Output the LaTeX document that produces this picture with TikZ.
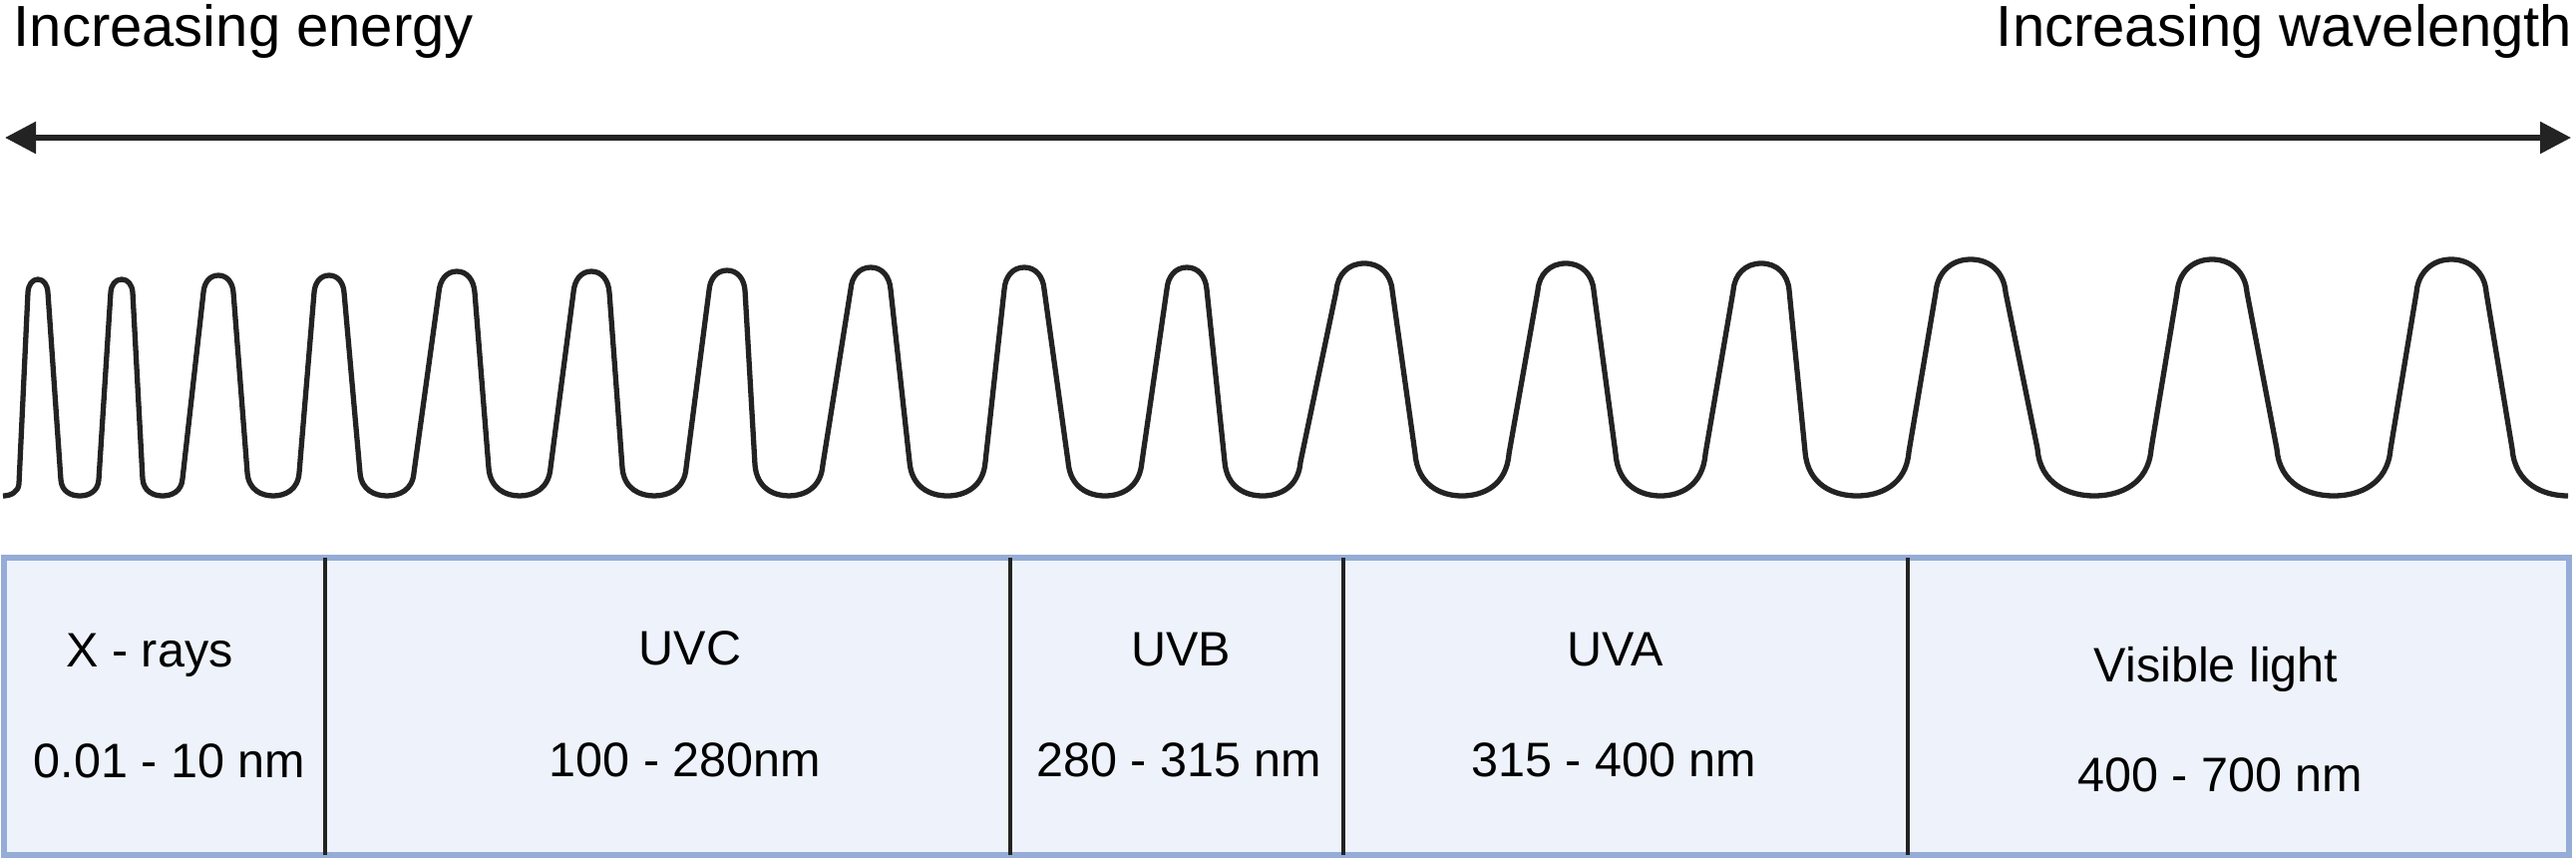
\documentclass[tikz,border=0pt]{standalone}
\usepackage{fontspec}
\setmainfont{Liberation Sans}
\usetikzlibrary{arrows.meta}
\definecolor{inkcol}{HTML}{232323}
\definecolor{bandfill}{HTML}{EEF3FB}
\definecolor{banddraw}{HTML}{94ACD6}
\def\wslope{0.08}
\def\wk{0.58}
\def\wkb{0.45}
\def\wkf{0.75}
\tikzset{
  wave/.style={draw=inkcol,line width=1.5pt,line join=round},
  toptext/.style={font=\fontsize{16.5}{19}\selectfont,inner sep=0pt},
  bandtext/.style={font=\fontsize{13.8}{16}\selectfont,inner sep=0pt,anchor=base}
}
\begin{document}
\begin{tikzpicture}[x=0.01cm,y=0.01cm]
\useasboundingbox (0,0) rectangle (2583,863);
\node[toptext,anchor=base west] (energy) at (13,816) {Increasing energy};
\node[toptext,anchor=base east] (wavelength) at (2580,816) {Increasing wavelength};
\coordinate (arrowl) at (5,725);
\coordinate (arrowr) at (2578,725);
\draw[draw=inkcol,line width=1.6pt,{Triangle[length=0.31cm,width=0.31cm]}-{Triangle[length=0.31cm,width=0.31cm]}] (arrowl) -- (arrowr);
\draw[wave] (3,366) .. controls +(8,0) and +(-\wslope*8,-8) .. (19,378)
  \foreach \xp/\yp/\rp/\hp/\xt/\rt/\ht in {
    38/583/10/13/80/19/16, 122/583/11/13/163/20/17, 219/587/15/17/274/26/23,
    330/587/15/17/388/27/23, 458/591/18/21/521/31/28, 593/591/18/21/656/32/28,
    729/592/18/20/791/34/31, 873/595/20/22/950/38/34, 1027/595/20/22/1108/37/34,
    1190/595/20/22/1266/38/34, 1368/599/28/27/1466/47/42, 1570/599/28/27/1665/45/42,
    1766/599/28/27/1862/52/44, 1976/603/35/33/2100/57/47, 2218/603/35/33/2340/57/47}
  { -- (\xp-\rp,\yp-\hp) .. controls +(\wslope*\wk*\hp,\wk*\hp) and +(-\wk*\rp,0) .. (\xp,\yp)
       .. controls +(\wk*\rp,0) and +(-\wslope*\wk*\hp,\wk*\hp) .. (\xp+\rp,\yp-\hp)
    -- (\xt-\rt,366+\ht) .. controls +(\wslope*\wkf*\ht,-\wkf*\ht) and +(-\wkb*\rt,0) .. (\xt,366)
       .. controls +(\wkb*\rt,0) and +(-\wslope*\wkf*\ht,-\wkf*\ht) .. (\xt+\rt,366+\ht) }
  -- (2423,570) .. controls +(\wslope*19,19) and +(-20,0) .. (2458,603)
     .. controls +(20,0) and +(-\wslope*19,19) .. (2493,570)
  -- (2519,413) .. controls +(\wslope*35,-35) and +(-25,0) .. (2575,366);
\draw[fill=bandfill,draw=banddraw,line width=1.6pt] (4,6) rectangle (2576,304);
\foreach \x in {326,1013,1347,1913}
  \draw[draw=inkcol,line width=1.4pt] (\x,6) -- (\x,304);
\node[bandtext] (xray) at (150,195) {X - rays};
\node[bandtext] (xraynm) at (170,84) {0.01 - 10 nm};
\node[bandtext] (uvc) at (692,197) {UVC};
\node[bandtext] (uvcnm) at (687,85) {100 - 280nm};
\node[bandtext] (uvb) at (1184,196) {UVB};
\node[bandtext] (uvbnm) at (1182,85) {280 - 315 nm};
\node[bandtext] (uva) at (1620,196) {UVA};
\node[bandtext] (uvanm) at (1618,85) {315 - 400 nm};
\node[bandtext] (visible) at (2222,180) {Visible light};
\node[bandtext] (visiblenm) at (2226,70) {400 - 700 nm};
\end{tikzpicture}
\end{document}
